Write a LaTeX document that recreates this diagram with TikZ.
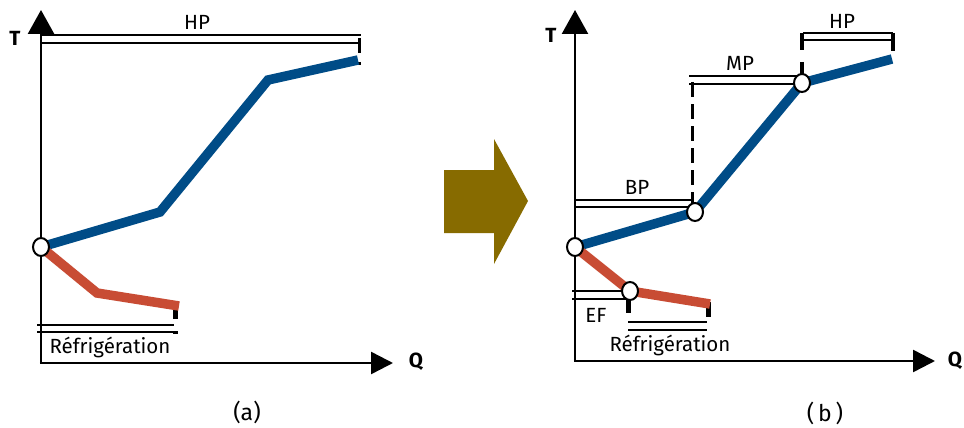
\documentclass[tikz,border=0pt]{standalone}
\usepackage{fontspec}
\setmainfont{Fira Sans}
\usetikzlibrary{arrows.meta,shapes.geometric}
\definecolor{hotblue}{HTML}{004C87}
\definecolor{coldred}{HTML}{C84C34}
\definecolor{arrowgold}{HTML}{876B00}
\begin{document}
\begin{tikzpicture}[x=1pt,y=-1pt]
    \tikzset{
    pt/.style={ellipse,minimum width=16pt,minimum height=18pt,inner sep=0pt,fill=white,draw=black,line width=2pt},
    hot/.style={line width=9.5pt,draw=hotblue},
    cold/.style={line width=9.5pt,draw=coldred},
    dbl/.style={draw=black,double=white,double distance=5.5pt,line width=2pt},
    ax/.style={line width=2.5pt,-{Triangle[width=26pt,length=24pt]}},
    tk/.style={line width=5pt},
    lbl/.style={font=\fontsize{20.5}{24}\selectfont,inner sep=0pt},
    axl/.style={font=\fontsize{20.5}{24}\selectfont\bfseries,inner sep=0pt},
    captxt/.style={font=\fontsize{23}{26}\selectfont,inner sep=0pt},
    }
    \useasboundingbox (0,0) rectangle (964,428);

    % (a) one level
    \coordinate (oa) at (41,363);
    \coordinate (ta) at (41,10);
    \coordinate (qa) at (393,363);
    \coordinate (a0) at (41,247);
    \coordinate (a1) at (160,212);
    \coordinate (a2) at (268,80);
    \coordinate (a3) at (358,60);
    \coordinate (r1) at (97,293);
    \coordinate (r2) at (179,306);
    \coordinate (hpa1) at (41,39);
    \coordinate (hpa2) at (361,39);
    \coordinate (rfa1) at (37,328.5);
    \coordinate (rfa2) at (174,328.5);

    \draw[dbl] (hpa1) -- (hpa2);
    \draw[dbl] (rfa1) -- (rfa2);
    \draw[line width=3pt,dash pattern=on 15pt off 9pt] (359,38) -- (359,65);
    \draw[tk,dash pattern=on 10pt off 12pt] (175,309) -- (175,334);
    \draw[hot] (a0) -- (a1) -- (a2) -- (a3);
    \draw[cold] (a0) -- (r1) -- (r2);
    \draw[ax] (oa) -- (ta);
    \draw[line width=2.5pt,-{Triangle[width=22pt,length=22pt]}] (39.75,363) -- (qa);
    \node[pt] (pa0) at (a0) {};

    \node[axl] (Ta) at (15,38) {T};
    \node[axl] (Qa) at (416,362) {Q};
    \node[lbl] (HPa) at (197,22) {HP};
    \node[lbl] (RFa) at (110,347) {Réfrigération};
    \node[captxt] (capa) at (247,412) {(a)};

    % big arrow
    \fill[arrowgold] (444,170) -- (494,170) -- (494,139) -- (528,201)
        -- (494,264) -- (494,233) -- (444,233) -- cycle;

    % (b) three levels
    \coordinate (ob) at (575,361);
    \coordinate (tb) at (575,10);
    \coordinate (qb) at (935,361);
    \coordinate (b0) at (575,247);
    \coordinate (b1) at (695,212);
    \coordinate (b2) at (802,83);
    \coordinate (b3) at (892,59);
    \coordinate (s1) at (630,291);
    \coordinate (s2) at (710,304);
    \coordinate (bp1) at (575,203.5);
    \coordinate (bp2) at (692,203.5);
    \coordinate (mp1) at (689,80);
    \coordinate (mp2) at (802,80);
    \coordinate (hpb1) at (803,36.5);
    \coordinate (hpb2) at (893,36.5);
    \coordinate (ef1) at (572,295);
    \coordinate (ef2) at (630,295);
    \coordinate (rfb1) at (628,326);
    \coordinate (rfb2) at (707,326);

    \draw[dbl] (bp1) -- (bp2);
    \draw[dbl] (mp1) -- (mp2);
    \draw[dbl] (hpb1) -- (hpb2);
    \draw[dbl] (ef1) -- (ef2);
    \draw[dbl] (rfb1) -- (rfb2);
    \draw[line width=3pt,dash pattern=on 15pt off 7pt] (692,82) -- (692,212);
    \draw[line width=4.5pt,dash pattern=on 17pt off 12pt] (802,33) -- (802,80);
    \draw[line width=4.5pt] (893,33) -- (893,51);
    \draw[tk] (628,297) -- (628,313);
    \draw[tk] (708,302) -- (708,317);
    \draw[hot] (b0) -- (b1) -- (b2) -- (b3);
    \draw[cold] (b0) -- (s1) -- (s2);
    \draw[ax] (ob) -- (tb);
    \draw[line width=2.5pt,-{Triangle[width=22pt,length=22pt]}] (573.75,361) -- (qb);
    \node[pt] (pb0) at (b0) {};
    \node[pt] (pb1) at (b1) {};
    \node[pt] (pb2) at (b2) {};
    \node[pt] (ps1) at (s1) {};

    \node[axl] (Tb) at (551,35) {T};
    \node[axl] (Qb) at (955,361) {Q};
    \node[lbl] (BP) at (637,187) {BP};
    \node[lbl] (MP) at (740,63) {MP};
    \node[lbl] (HPb) at (842,21) {HP};
    \node[lbl] (EF) at (596,315) {EF};
    \node[lbl] (RFb) at (670,345) {Réfrigération};
    \node[captxt] (capb) at (825,413) {(\,b\,)};
\end{tikzpicture}
\end{document}
